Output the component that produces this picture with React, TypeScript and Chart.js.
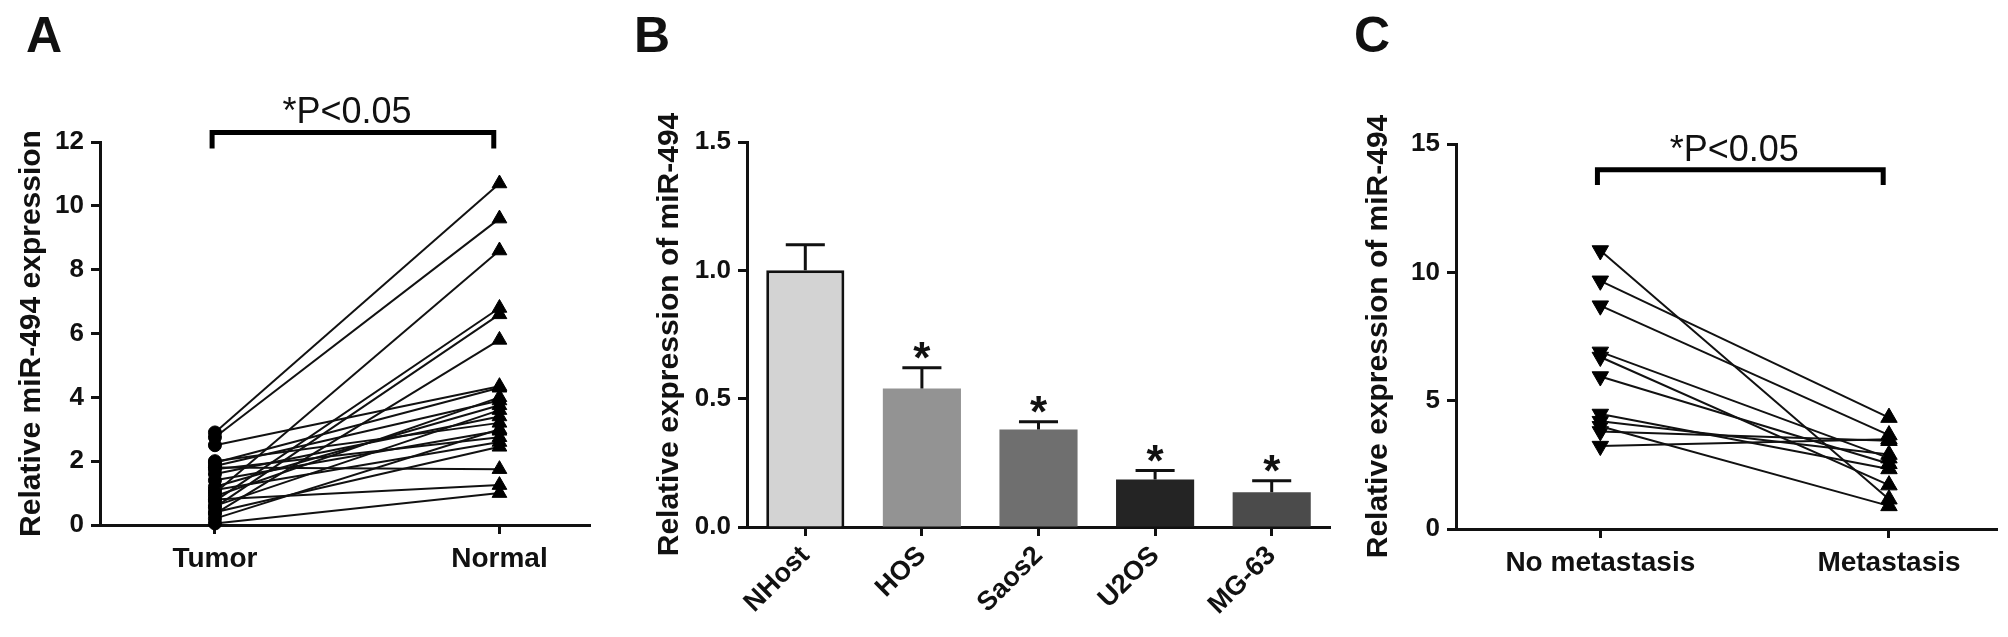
import React, { useEffect, useRef } from 'react';
import { Chart, registerables } from 'chart.js';

Chart.register(...registerables);

const FONT = "'Liberation Sans', Arial, Helvetica, sans-serif";
Chart.defaults.font.family = FONT;
Chart.defaults.color = '#111';

// ---------- Panel A data ----------
const pairCategories = ['Tumor', 'Normal'];
const tumorValues = [2.9, 2.75, 1.0, 0.75, 0.55, 0.35, 2.5, 1.95, 0.9, 1.85, 1.2, 0.6, 1.6, 2.0, 0.2, 1.4, 1.75, 1.1, 0.4, 1.8, 0.8, 0.05];
const normalValues = [10.7, 9.6, 8.6, 6.8, 6.6, 5.8, 4.35, 4.3, 4.0, 3.9, 3.75, 3.6, 3.4, 3.2, 3.0, 2.95, 2.75, 2.6, 2.45, 1.75, 1.25, 1.0];
const yTicksA = [0, 2, 4, 6, 8, 10, 12];

// ---------- Panel B data ----------
const cellLines = ['NHost', 'HOS', 'Saos2', 'U2OS', 'MG-63'];
const cellMeans = [1.0, 0.54, 0.38, 0.185, 0.135];
const cellErrors = [0.1, 0.08, 0.03, 0.035, 0.045];
const cellSignificant = [false, true, true, true, true];
const yTicksB = [0, 0.5, 1.0, 1.5];

// ---------- Panel C data ----------
const metCategories = ['No metastasis', 'Metastasis'];
const noMetValues = [10.85, 9.67, 8.7, 6.9, 6.7, 5.94, 4.48, 4.2, 4.0, 3.8, 3.23];
const metValues = [1.16, 4.34, 3.66, 2.76, 1.71, 2.54, 2.34, 2.9, 0.9, 3.44, 3.5];
const yTicksC = [0, 5, 10, 15];

const pLabel = '*P<0.05';

// ---------- plugins ----------
const bracketPlugin = {
  id: 'sigBracket',
  afterDatasetsDraw(chart: any, _args: any, opts: any) {
    if (!opts || opts.text == null) return;
    const { ctx } = chart;
    const xs = chart.scales.x;
    const ys = chart.scales.y;
    const x1 = xs.getPixelForValue(opts.from);
    const x2 = xs.getPixelForValue(opts.to);
    const y = ys.getPixelForValue(opts.level);
    const yd = ys.getPixelForValue(opts.drop);
    ctx.save();
    ctx.strokeStyle = '#000';
    ctx.lineWidth = 5;
    ctx.lineJoin = 'miter';
    ctx.lineCap = 'butt';
    ctx.beginPath();
    ctx.moveTo(x1, yd);
    ctx.lineTo(x1, y);
    ctx.lineTo(x2, y);
    ctx.lineTo(x2, yd);
    ctx.stroke();
    ctx.fillStyle = '#111';
    ctx.font = `36px ${FONT}`;
    ctx.textAlign = 'center';
    ctx.textBaseline = 'alphabetic';
    ctx.fillText(opts.text, (x1 + x2) / 2 - 6, y - 9);
    ctx.restore();
  },
};

const errorBarPlugin = {
  id: 'errorBars',
  afterDatasetsDraw(chart: any) {
    const { ctx } = chart;
    const ys = chart.scales.y;
    const meta = chart.getDatasetMeta(0);
    ctx.save();
    ctx.strokeStyle = '#111';
    ctx.lineWidth = 3;
    ctx.lineCap = 'butt';
    meta.data.forEach((el: any, i: number) => {
      const { x, y, width } = el.getProps(['x', 'y', 'width'], true);
      const top = ys.getPixelForValue(cellMeans[i] + cellErrors[i]);
      const half = width / 4;
      ctx.beginPath();
      ctx.moveTo(x, y);
      ctx.lineTo(x, top);
      ctx.moveTo(x - half, top);
      ctx.lineTo(x + half, top);
      ctx.stroke();
      if (cellSignificant[i]) {
        ctx.font = `bold 44px ${FONT}`;
        ctx.fillStyle = '#111';
        ctx.textAlign = 'center';
        ctx.textBaseline = 'alphabetic';
        const m = ctx.measureText('*');
        ctx.fillText('*', x, top - 9 - m.actualBoundingBoxDescent);
      }
    });
    ctx.restore();
  },
};

// ---------- shared axis styling ----------
const axisGrid = {
  display: true,
  drawOnChartArea: false,
  drawTicks: true,
  tickLength: 9,
  tickWidth: 3,
  tickColor: '#111',
};
const axisBorder = { display: true, color: '#111', width: 3 };

function yAxis(ticks: number[], max: number, title: string, width: number, titlePad: number, fmt: (v: number) => string) {
  return {
    type: 'linear',
    min: 0,
    max,
    z: 1,
    grid: axisGrid,
    border: axisBorder,
    afterBuildTicks: (s: any) => {
      s.ticks = ticks.map((v) => ({ value: v }));
    },
    afterFit: (s: any) => {
      s.width = width;
    },
    ticks: {
      color: '#111',
      padding: 7,
      font: { family: FONT, size: 26, weight: 'bold' },
      callback: (v: any) => fmt(Number(v)),
    },
    title: {
      display: true,
      text: title,
      color: '#111',
      padding: { top: titlePad, bottom: 0 },
      font: { family: FONT, size: 30, weight: 'bold' },
    },
  };
}

function pairedConfig(p: {
  lows: number[];
  highs: number[];
  categories: string[];
  yTicks: number[];
  yMax: number;
  title: string;
  xMin: number;
  xMax: number;
  leftStyle: string;
  leftRotation: number;
  leftRadius: number;
  rightRadius: number;
  padding: any;
  yWidth: number;
  titlePad: number;
  level: number;
  drop: number;
}) {
  const datasets = p.lows.map((v, i) => ({
    data: [
      { x: 1, y: v },
      { x: 2, y: p.highs[i] },
    ],
    showLine: true,
    borderColor: '#111',
    borderWidth: 2,
    pointStyle: [p.leftStyle, 'triangle'],
    pointRotation: [p.leftRotation, 0],
    pointRadius: [p.leftRadius, p.rightRadius],
    pointBackgroundColor: '#000',
    pointBorderColor: '#000',
    pointBorderWidth: 1,
    clip: false,
  }));
  return {
    type: 'scatter',
    data: { datasets },
    plugins: [bracketPlugin],
    options: {
      animation: false,
      responsive: false,
      events: [],
      layout: { padding: p.padding },
      plugins: {
        legend: { display: false },
        tooltip: { enabled: false },
        sigBracket: { from: 0.99, to: 1.98, level: p.level, drop: p.drop, text: pLabel },
      },
      scales: {
        x: {
          type: 'linear',
          min: p.xMin,
          max: p.xMax,
          grid: axisGrid,
          border: axisBorder,
          afterBuildTicks: (s: any) => {
            s.ticks = p.categories.map((_c, i) => ({ value: i + 1 }));
          },
          afterFit: (s: any) => {
            s.height = 100;
          },
          ticks: {
            color: '#111',
            padding: 8,
            autoSkip: false,
            maxRotation: 0,
            font: { family: FONT, size: 28, weight: 'bold' },
            callback: (v: any) => p.categories[Math.round(Number(v)) - 1] ?? '',
          },
        },
        y: yAxis(p.yTicks, p.yMax, p.title, p.yWidth, p.titlePad, (v) => String(v)),
      },
    },
  };
}

function barConfig() {
  return {
    type: 'bar',
    data: {
      labels: cellLines,
      datasets: [
        {
          data: cellMeans,
          backgroundColor: ['#d3d3d3', '#939393', '#6f6f6f', '#242424', '#4b4b4b'],
          borderColor: ['#111', '#939393', '#6f6f6f', '#242424', '#4b4b4b'],
          borderWidth: [3, 0, 0, 0, 0],
          barPercentage: 0.67,
          categoryPercentage: 1,
        },
      ],
    },
    plugins: [errorBarPlugin],
    options: {
      animation: false,
      responsive: false,
      events: [],
      layout: { padding: { left: 0, top: 142, right: 10, bottom: 10 } },
      plugins: { legend: { display: false }, tooltip: { enabled: false } },
      scales: {
        x: {
          z: 1,
          grid: { ...axisGrid, offset: false },
          border: axisBorder,
          afterFit: (s: any) => {
            s.height = 100;
          },
          ticks: {
            color: '#111',
            padding: 4,
            autoSkip: false,
            minRotation: 45,
            maxRotation: 45,
            font: { family: FONT, size: 27, weight: 'bold' },
          },
        },
        y: yAxis(yTicksB, 1.5, 'Relative expression of miR-494', 137, 42, (v) => v.toFixed(1)),
      },
    },
  };
}

const letterStyle = (left: number): React.CSSProperties => ({
  position: 'absolute',
  left,
  top: 10,
  fontFamily: FONT,
  fontWeight: 'bold',
  fontSize: 50,
  lineHeight: '50px',
  color: '#111',
});

export default function App() {
  const refA = useRef<HTMLCanvasElement>(null);
  const refB = useRef<HTMLCanvasElement>(null);
  const refC = useRef<HTMLCanvasElement>(null);

  useEffect(() => {
    const charts: Chart[] = [];
    if (refA.current) {
      charts.push(
        new Chart(
          refA.current,
          pairedConfig({
            lows: tumorValues,
            highs: normalValues,
            categories: pairCategories,
            yTicks: yTicksA,
            yMax: 12,
            title: 'Relative miR-494 expression',
            xMin: 0.596,
            xMax: 2.32,
            leftStyle: 'circle',
            leftRotation: 0,
            leftRadius: 6.5,
            rightRadius: 8.5,
            padding: { left: 0, top: 142, right: 5, bottom: 12 },
            yWidth: 100,
            titlePad: 14,
            level: 12.3,
            drop: 11.8,
          }) as any
        )
      );
    }
    if (refB.current) {
      charts.push(new Chart(refB.current, barConfig() as any));
    }
    if (refC.current) {
      charts.push(
        new Chart(
          refC.current,
          pairedConfig({
            lows: noMetValues,
            highs: metValues,
            categories: metCategories,
            yTicks: yTicksC,
            yMax: 15,
            title: 'Relative expression of miR-494',
            xMin: 0.5,
            xMax: 2.376,
            leftStyle: 'triangle',
            leftRotation: 180,
            leftRadius: 9.5,
            rightRadius: 9.5,
            padding: { left: 0, top: 144, right: 8, bottom: 8 },
            yWidth: 116,
            titlePad: 21,
            level: 14.0,
            drop: 13.4,
          }) as any
        )
      );
    }
    return () => charts.forEach((c) => c.destroy());
  }, []);

  return (
    <div
      style={{
        position: 'fixed',
        left: 0,
        top: 0,
        width: 2008,
        height: 637,
        background: '#fff',
        overflow: 'hidden',
      }}
    >
      <canvas ref={refA} width={600} height={637} style={{ position: 'absolute', left: 0, top: 0 }} />
      <canvas ref={refB} width={730} height={637} style={{ position: 'absolute', left: 610, top: 0 }} />
      <canvas ref={refC} width={668} height={637} style={{ position: 'absolute', left: 1340, top: 0 }} />
      <div style={letterStyle(26)}>A</div>
      <div style={letterStyle(634)}>B</div>
      <div style={letterStyle(1354)}>C</div>
    </div>
  );
}
